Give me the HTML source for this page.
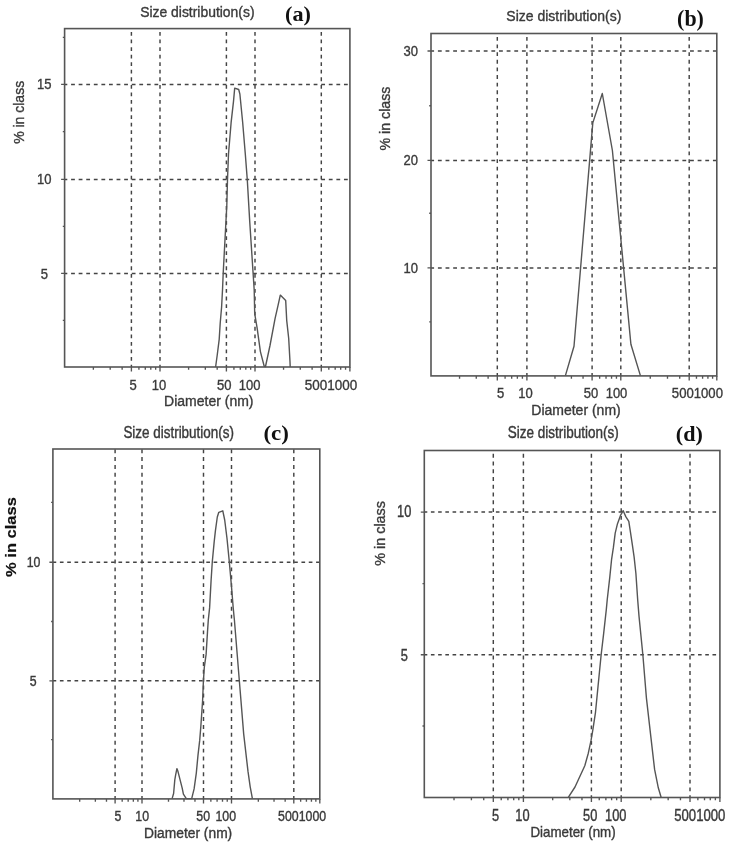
<!DOCTYPE html>
<html><head><meta charset="utf-8"><title>Size distribution</title>
<style>
html,body{margin:0;padding:0;background:#fff;}
svg{display:block;filter:blur(0.3px);}
text{font-family:"Liberation Sans",Arial,sans-serif;fill:#3a3a3a;stroke:#3a3a3a;stroke-width:0.35px;}
.tag{stroke:none;}
.tag{font-family:"Liberation Serif","Times New Roman",serif;font-weight:bold;fill:#111;}
.yb{font-weight:bold;fill:#111;stroke:#111;stroke-width:0.2px;}
.g{stroke:#444;stroke-width:1.45;fill:none;}
.t{stroke:#555;stroke-width:1.35;fill:none;}
.fr{stroke:#555;stroke-width:1.6;fill:none;}
.cv{stroke:#555;stroke-width:1.4;fill:none;stroke-linejoin:round;}
</style></head><body>
<svg width="735" height="843" viewBox="0 0 735 843">
<rect width="735" height="843" fill="#fff"/>
<g><line x1="131.4" y1="28.6" x2="131.4" y2="367" class="g" style="stroke-dasharray:3.78 3.78;stroke-dashoffset:4.15"/>
<line x1="160" y1="28.6" x2="160" y2="367" class="g" style="stroke-dasharray:3.78 3.78;stroke-dashoffset:4.15"/>
<line x1="226.4" y1="28.6" x2="226.4" y2="367" class="g" style="stroke-dasharray:3.78 3.78;stroke-dashoffset:4.15"/>
<line x1="255" y1="28.6" x2="255" y2="367" class="g" style="stroke-dasharray:3.78 3.78;stroke-dashoffset:4.15"/>
<line x1="321.3" y1="28.6" x2="321.3" y2="367" class="g" style="stroke-dasharray:3.78 3.78;stroke-dashoffset:4.15"/>
<line x1="64.6" y1="273.4" x2="349.9" y2="273.4" class="g" style="stroke-dasharray:3.79 3.79;stroke-dashoffset:1.09"/>
<line x1="64.6" y1="179.4" x2="349.9" y2="179.4" class="g" style="stroke-dasharray:3.79 3.79;stroke-dashoffset:1.09"/>
<line x1="64.6" y1="84.4" x2="349.9" y2="84.4" class="g" style="stroke-dasharray:3.79 3.79;stroke-dashoffset:1.09"/>
<path d="M93.37 367v2.8 M110.2 367v2.8 M122.14 367v2.8 M131.4 367v4.5 M138.92 367v2.8 M145.28 367v2.8 M150.79 367v2.8 M155.65 367v2.8 M188.6 367v2.8 M205.33 367v2.8 M217.19 367v2.8 M226.4 367v4.5 M233.92 367v2.8 M240.28 367v2.8 M245.79 367v2.8 M250.65 367v2.8 M283.55 367v2.8 M300.26 367v2.8 M312.11 367v2.8 M321.3 367v4.5 M328.82 367v2.8 M335.18 367v2.8 M340.69 367v2.8 M345.55 367v2.8 M160 367v4.5 M255 367v4.5 M349.9 367v4.5 M61.1 273.4h3.5 M61.1 179.4h3.5 M61.1 84.4h3.5 M62.8 37.3h1.8 M62.8 131.6h1.8 M62.8 226.4h1.8 M62.8 320.4h1.8" class="t"/>
<rect x="64.6" y="28.6" width="285.3" height="338.4" class="fr"/>
<polyline points="215.6,367 217.3,354.5 219.2,339.3 220.2,323.2 221.6,307 222.5,290 223.2,273.2 224.9,241.2 226.8,205.6 227.5,179.5 228.5,154 231.1,122.7 233.5,101.4 234.7,88.1 238.7,89.5 239.9,94.2 242.7,122.7 245.3,154 247.3,180 249.8,222.7 253.1,273.2 254.2,290 254.7,313.7 257.1,327.9 260.4,351.6 264.2,366.3 265.5,366.5 270,345.5 275.1,318.3 278.1,305.2 280.3,295.1 285.7,300.6 286.7,320.3 288.7,338.5 290,361.7 290.2,367" class="cv"/>
<text transform="translate(44.3,279) scale(0.93,1.05)" text-anchor="middle" font-size="14">5</text>
<text transform="translate(44.3,184) scale(0.93,1.05)" text-anchor="middle" font-size="14">10</text>
<text transform="translate(44.3,89.2) scale(0.93,1.05)" text-anchor="middle" font-size="14">15</text>
<text transform="translate(133.2,389.8) scale(0.93,1.05)" text-anchor="middle" font-size="14">5</text>
<text transform="translate(159,389.8) scale(0.93,1.05)" text-anchor="middle" font-size="14">10</text>
<text transform="translate(224.3,389.8) scale(0.93,1.05)" text-anchor="middle" font-size="14">50</text>
<text transform="translate(249.6,389.8) scale(0.93,1.05)" text-anchor="middle" font-size="14">100</text>
<text transform="translate(330.95,389.8) scale(1,1.05)" text-anchor="middle" font-size="14" textLength="52.4" lengthAdjust="spacingAndGlyphs">5001000</text>
<text transform="translate(140.2,16.6) scale(1,1.03)" font-size="13.9">Size distribution(s)</text>
<text transform="translate(298.05,20.8)" text-anchor="middle" font-size="21.5" textLength="25.9" lengthAdjust="spacingAndGlyphs" class="tag">(a)</text>
<text transform="translate(208.8,405.5) scale(1,1.02)" text-anchor="middle" font-size="14">Diameter (nm)</text>
<text transform="translate(23.6,112.35) rotate(-90)" text-anchor="middle" font-size="14">% in class</text></g>
<g><line x1="497.3" y1="33.5" x2="497.3" y2="375.9" class="g" style="stroke-dasharray:3.82 3.82;stroke-dashoffset:4.25"/>
<line x1="526.9" y1="33.5" x2="526.9" y2="375.9" class="g" style="stroke-dasharray:3.82 3.82;stroke-dashoffset:4.25"/>
<line x1="592.1" y1="33.5" x2="592.1" y2="375.9" class="g" style="stroke-dasharray:3.82 3.82;stroke-dashoffset:4.25"/>
<line x1="620.8" y1="33.5" x2="620.8" y2="375.9" class="g" style="stroke-dasharray:3.82 3.82;stroke-dashoffset:4.25"/>
<line x1="689.2" y1="33.5" x2="689.2" y2="375.9" class="g" style="stroke-dasharray:3.82 3.82;stroke-dashoffset:4.25"/>
<line x1="431" y1="267.9" x2="716.8" y2="267.9" class="g" style="stroke-dasharray:3.82 3.82;stroke-dashoffset:0.74"/>
<line x1="431" y1="160.4" x2="716.8" y2="160.4" class="g" style="stroke-dasharray:3.82 3.82;stroke-dashoffset:0.74"/>
<line x1="431" y1="51" x2="716.8" y2="51" class="g" style="stroke-dasharray:3.82 3.82;stroke-dashoffset:0.74"/>
<path d="M459.55 375.9v2.8 M476.26 375.9v2.8 M488.11 375.9v2.8 M497.3 375.9v4.5 M505.09 375.9v2.8 M511.67 375.9v2.8 M517.37 375.9v2.8 M522.4 375.9v2.8 M554.98 375.9v2.8 M571.41 375.9v2.8 M583.06 375.9v2.8 M592.1 375.9v4.5 M599.65 375.9v2.8 M606.03 375.9v2.8 M611.56 375.9v2.8 M616.44 375.9v2.8 M650.26 375.9v2.8 M667.49 375.9v2.8 M679.72 375.9v2.8 M689.2 375.9v4.5 M696.46 375.9v2.8 M702.6 375.9v2.8 M707.91 375.9v2.8 M712.6 375.9v2.8 M526.9 375.9v4.5 M620.8 375.9v4.5 M716.8 375.9v4.5 M427.5 267.9h3.5 M427.5 160.4h3.5 M427.5 51h3.5 M429.2 105.7h1.8 M429.2 213.2h1.8 M429.2 321.8h1.8" class="t"/>
<rect x="431" y="33.5" width="285.8" height="342.4" class="fr"/>
<polyline points="565.4,375.6 574,346.2 592.8,122.9 602.3,93.5 612.4,150.5 630.9,344.3 640.4,375.6" class="cv"/>
<text transform="translate(410.7,272.5) scale(0.93,1.05)" text-anchor="middle" font-size="14">10</text>
<text transform="translate(410.7,164.7) scale(0.93,1.05)" text-anchor="middle" font-size="14">20</text>
<text transform="translate(410.7,56) scale(0.93,1.05)" text-anchor="middle" font-size="14">30</text>
<text transform="translate(500.5,397.6) scale(0.93,1.05)" text-anchor="middle" font-size="14">5</text>
<text transform="translate(525.5,397.6) scale(0.93,1.05)" text-anchor="middle" font-size="14">10</text>
<text transform="translate(591,397.6) scale(0.93,1.05)" text-anchor="middle" font-size="14">50</text>
<text transform="translate(616.5,397.6) scale(0.93,1.05)" text-anchor="middle" font-size="14">100</text>
<text transform="translate(697.4,397.6) scale(1,1.05)" text-anchor="middle" font-size="14" textLength="51.1" lengthAdjust="spacingAndGlyphs">5001000</text>
<text transform="translate(506.3,21.4) scale(1,1.04)" font-size="14">Size distribution(s)</text>
<text transform="translate(690.5,26)" text-anchor="middle" font-size="22.5" textLength="26.8" lengthAdjust="spacingAndGlyphs" class="tag">(b)</text>
<text transform="translate(576,414.9) scale(1,1.03)" text-anchor="middle" font-size="14">Diameter (nm)</text>
<text transform="translate(389.9,118.55) rotate(-90)" text-anchor="middle" font-size="14.2">% in class</text></g>
<g><line x1="115.1" y1="449" x2="115.1" y2="798.9" class="g" style="stroke-dasharray:3.94 3.94;stroke-dashoffset:7.69"/>
<line x1="142" y1="449" x2="142" y2="798.9" class="g" style="stroke-dasharray:3.94 3.94;stroke-dashoffset:7.69"/>
<line x1="203.5" y1="449" x2="203.5" y2="798.9" class="g" style="stroke-dasharray:3.94 3.94;stroke-dashoffset:7.69"/>
<line x1="231.5" y1="449" x2="231.5" y2="798.9" class="g" style="stroke-dasharray:3.94 3.94;stroke-dashoffset:7.69"/>
<line x1="293.8" y1="449" x2="293.8" y2="798.9" class="g" style="stroke-dasharray:3.94 3.94;stroke-dashoffset:7.69"/>
<line x1="52.9" y1="680.8" x2="319.8" y2="680.8" class="g" style="stroke-dasharray:3.66 3.66;stroke-dashoffset:0.33"/>
<line x1="52.9" y1="562.2" x2="319.8" y2="562.2" class="g" style="stroke-dasharray:3.66 3.66;stroke-dashoffset:0.33"/>
<path d="M79.69 798.9v2.8 M95.36 798.9v2.8 M106.48 798.9v2.8 M115.1 798.9v4.5 M122.18 798.9v2.8 M128.16 798.9v2.8 M133.34 798.9v2.8 M137.91 798.9v2.8 M168.49 798.9v2.8 M183.98 798.9v2.8 M194.97 798.9v2.8 M203.5 798.9v4.5 M210.86 798.9v2.8 M217.09 798.9v2.8 M222.49 798.9v2.8 M227.24 798.9v2.8 M258.33 798.9v2.8 M274.03 798.9v2.8 M285.16 798.9v2.8 M293.8 798.9v4.5 M300.64 798.9v2.8 M306.42 798.9v2.8 M311.43 798.9v2.8 M315.85 798.9v2.8 M142 798.9v4.5 M231.5 798.9v4.5 M319.8 798.9v4.5 M49.4 680.8h3.5 M49.4 562.2h3.5 M51.1 502.3h1.8 M51.1 621.5h1.8 M51.1 739.6h1.8" class="t"/>
<rect x="52.9" y="449" width="266.9" height="349.9" class="fr"/>
<polyline points="172.1,798.6 173.6,793.5 174.8,779.9 175.7,774.6 176.9,768.6 178,771.6 182.2,788.2 183.4,794.1 186.3,798.6 191.7,798.6 194.1,788.9 196.3,773.1 198,755.1 199.7,740.4 200.8,726.9 202.6,700.7 203.4,681.1 204.3,667.4 206.1,654.4 207.5,631.9 208.3,620 209.6,607.9 211.1,580.2 212.3,561.7 214.2,541.6 215.4,530.8 217.3,517 218.8,512.3 222.8,510.8 224.7,520 227,538.5 229.3,561.7 231.6,587.9 233.2,607.9 234.4,620 239.3,680.3 243.7,734.1 248,771.4 250.2,786.8 252.4,798.6" class="cv"/>
<text transform="translate(33.1,685.8) scale(0.95,1.18)" text-anchor="middle" font-size="13">5</text>
<text transform="translate(33.5,567.2) scale(0.95,1.18)" text-anchor="middle" font-size="13">10</text>
<text transform="translate(118,821.1) scale(0.95,1.18)" text-anchor="middle" font-size="13">5</text>
<text transform="translate(142.2,821.1) scale(0.95,1.18)" text-anchor="middle" font-size="13">10</text>
<text transform="translate(203.2,821.1) scale(0.95,1.18)" text-anchor="middle" font-size="13">50</text>
<text transform="translate(225.7,821.1) scale(0.95,1.18)" text-anchor="middle" font-size="13">100</text>
<text transform="translate(302.1,821.1) scale(1,1.18)" text-anchor="middle" font-size="13" textLength="48" lengthAdjust="spacingAndGlyphs">5001000</text>
<text transform="translate(123.4,437.6) scale(1,1.16)" font-size="13.45">Size distribution(s)</text>
<text transform="translate(276.15,439.6)" text-anchor="middle" font-size="21.3" textLength="25.5" lengthAdjust="spacingAndGlyphs" class="tag">(c)</text>
<text transform="translate(188.15,838.1) scale(1,1.07)" text-anchor="middle" font-size="13.8">Diameter (nm)</text>
<text transform="translate(16.1,537.05) rotate(-90) scale(1,0.93)" text-anchor="middle" font-size="16.5" class="yb">% in class</text></g>
<g><line x1="493.3" y1="450.5" x2="493.3" y2="797.5" class="g" style="stroke-dasharray:3.88 3.88;stroke-dashoffset:4.45"/>
<line x1="523.4" y1="450.5" x2="523.4" y2="797.5" class="g" style="stroke-dasharray:3.88 3.88;stroke-dashoffset:4.45"/>
<line x1="591.4" y1="450.5" x2="591.4" y2="797.5" class="g" style="stroke-dasharray:3.88 3.88;stroke-dashoffset:4.45"/>
<line x1="621.2" y1="450.5" x2="621.2" y2="797.5" class="g" style="stroke-dasharray:3.88 3.88;stroke-dashoffset:4.45"/>
<line x1="690" y1="450.5" x2="690" y2="797.5" class="g" style="stroke-dasharray:3.88 3.88;stroke-dashoffset:4.45"/>
<line x1="424.3" y1="654.7" x2="719.9" y2="654.7" class="g" style="stroke-dasharray:3.61 3.61;stroke-dashoffset:0.62"/>
<line x1="424.3" y1="512.1" x2="719.9" y2="512.1" class="g" style="stroke-dasharray:3.61 3.61;stroke-dashoffset:0.62"/>
<path d="M454.02 797.5v2.8 M471.4 797.5v2.8 M483.73 797.5v2.8 M493.3 797.5v4.5 M501.22 797.5v2.8 M507.91 797.5v2.8 M513.71 797.5v2.8 M518.82 797.5v2.8 M552.69 797.5v2.8 M569.82 797.5v2.8 M581.97 797.5v2.8 M591.4 797.5v4.5 M599.24 797.5v2.8 M605.87 797.5v2.8 M611.61 797.5v2.8 M616.67 797.5v2.8 M650.83 797.5v2.8 M668.16 797.5v2.8 M680.46 797.5v2.8 M690 797.5v4.5 M697.86 797.5v2.8 M704.51 797.5v2.8 M710.27 797.5v2.8 M715.36 797.5v2.8 M523.4 797.5v4.5 M621.2 797.5v4.5 M719.9 797.5v4.5 M420.8 654.7h3.5 M420.8 512.1h3.5 M422.5 583.6h1.8 M422.5 726h1.8" class="t"/>
<rect x="424.3" y="450.5" width="295.6" height="347" class="fr"/>
<polyline points="568.3,797.3 575,787 584.8,765.7 588.3,753.2 591,740.7 592.8,730.1 595.5,712.3 598.1,685.6 601.1,655.3 603.7,633.1 606.3,609.6 607.2,600 609.8,577.1 611.6,559.3 613.4,547.4 615.2,533.2 617.5,523.7 620.5,515.4 623.2,510.7 625.8,516.6 628.8,521.4 630.6,533.2 632.4,545.1 634.1,556.9 635.9,573.5 637.7,600 639,616.1 642.9,655.3 646.4,697.8 651,738.2 654.6,769.4 658.3,787.8 661.1,797.3" class="cv"/>
<text transform="translate(404.2,660.5) scale(0.95,1.17)" text-anchor="middle" font-size="13.5">5</text>
<text transform="translate(404.2,517.4) scale(0.95,1.17)" text-anchor="middle" font-size="13.5">10</text>
<text transform="translate(495.6,821) scale(0.95,1.17)" text-anchor="middle" font-size="13.5">5</text>
<text transform="translate(522.5,821) scale(0.95,1.17)" text-anchor="middle" font-size="13.5">10</text>
<text transform="translate(590.2,821) scale(0.95,1.17)" text-anchor="middle" font-size="13.5">50</text>
<text transform="translate(615.7,821) scale(0.95,1.17)" text-anchor="middle" font-size="13.5">100</text>
<text transform="translate(699.8,821) scale(1,1.17)" text-anchor="middle" font-size="13.5" textLength="51.2" lengthAdjust="spacingAndGlyphs">5001000</text>
<text transform="translate(507.8,438.4) scale(1,1.17)" font-size="13.5">Size distribution(s)</text>
<text transform="translate(689.35,441.25)" text-anchor="middle" font-size="21" textLength="27" lengthAdjust="spacingAndGlyphs" class="tag">(d)</text>
<text transform="translate(573,836.6) scale(1,1.12)" text-anchor="middle" font-size="13.35">Diameter (nm)</text>
<text transform="translate(384.7,533.35) rotate(-90)" text-anchor="middle" font-size="14.35">% in class</text></g>
</svg>
</body></html>
